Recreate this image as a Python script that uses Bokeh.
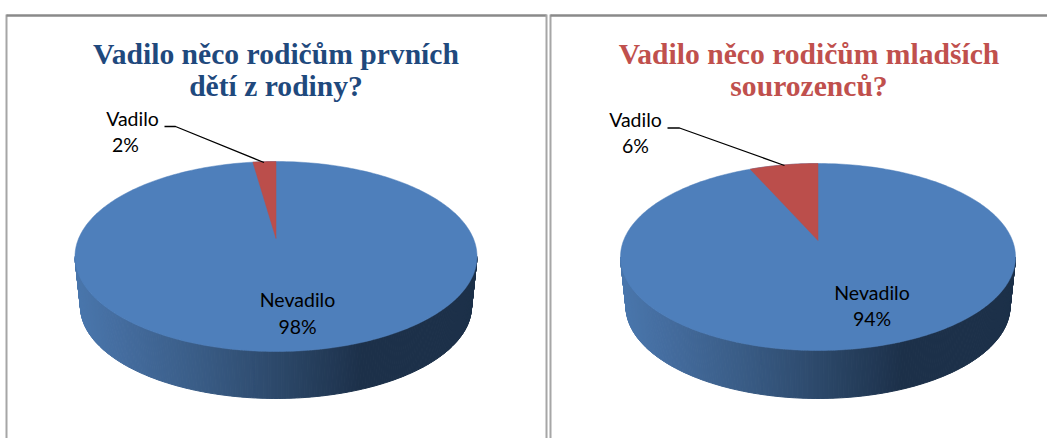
import numpy as np
from bokeh.plotting import figure
from bokeh.layouts import row
from bokeh.embed import file_html
from bokeh.resources import INLINE
from bokeh.core.properties import value

categories = ["Nevadilo", "Vadilo"]
values_first = [98, 2]
values_younger = [94, 6]
title_first = ["Vadilo něco rodičům prvních", "dětí z rodiny?"]
title_younger = ["Vadilo něco rodičům mladších", "sourozenců?"]

BLUE = "#4e7fbb"
RED = "#bb4e4b"
STOPS_T = [0.0, 0.12, 0.3, 0.5, 0.72, 1.0]
STOPS_RGB = np.array([[74, 119, 173], [68, 108, 158], [58, 93, 135], [45, 73, 107], [28, 48, 73], [28, 48, 73]])


def wall_color(t):
    c = [int(np.interp(t, STOPS_T, STOPS_RGB[:, i])) for i in range(3)]
    return "#%02x%02x%02x" % tuple(c)


def panel(vals, title_lines, title_color, x0, x1, geo, labels, leader, frame):
    p = figure(width=x1 - x0, height=438, x_range=(x0, x1), y_range=(438, 0), output_backend="svg",
               toolbar_location=None, x_axis_type=None, y_axis_type=None, min_border=0,
               outline_line_color=None, background_fill_color="white", border_fill_color="white")
    p.grid.visible = False
    cx, cy, rx, ry, bcy, brx, bry, apex_y = geo

    th = np.radians(np.linspace(180, 360, 241))
    xt, yt = cx + rx * np.cos(th), cy - ry * np.sin(th)
    xb, yb = cx + brx * np.cos(th), bcy - bry * np.sin(th)
    xs, ys, cols = [], [], []
    for i in range(len(th) - 1):
        xs.append([xt[i], xt[i + 1], xb[i + 1], xb[i]])
        ys.append([yt[i], yt[i + 1], yb[i + 1], yb[i]])
        cols.append(wall_color((xt[i] - (cx - rx)) / (2 * rx)))
    p.patches(xs, ys, fill_color=cols, line_color=cols, line_width=1)

    a = np.radians(np.linspace(0, 360, 361))
    p.patch(cx + rx * np.cos(a), cy + ry * np.sin(a), fill_color=BLUE, line_color=BLUE, line_width=0.5)

    small = vals[1] / sum(vals) * 2 * np.pi
    angs = np.linspace(0, small, 30)
    k = 2.4
    rim_x, rim_y = [], []
    up = cy - apex_y
    for t in angs:
        dx, dy = -np.sin(t) * k, np.cos(t)
        A = (dx / rx) ** 2 + (dy / ry) ** 2
        B = 2 * up * dy / ry ** 2
        C = (up / ry) ** 2 - 1
        s = (-B + np.sqrt(B * B - 4 * A * C)) / (2 * A)
        rim_x.append(cx + dx * s)
        rim_y.append(cy - (up + dy * s))
    p.patch([cx] + rim_x, [apex_y] + rim_y, fill_color=RED, line_color=RED, line_width=0.5)

    p.line(leader[0], leader[1], line_color="black", line_width=1.3)

    font = value("Lato")
    lx, ly = labels
    texts = [categories[1], f"{vals[1]}%", categories[0], f"{vals[0]}%"]
    p.text(lx, ly, text=texts, text_font=font, text_font_size="19.5px", text_color="black",
           text_align="center", text_baseline="middle")

    tx = frame["tx"]
    p.text([tx, tx], [53, 85], text=title_lines, text_font=value("Liberation Serif"), text_font_style="bold",
           text_font_size="29.6px", text_color=title_color, text_align="center", text_baseline="alphabetic")

    fx = frame["left"]
    p.line([fx, fx], [14, 438], line_color="#a6a6a6", line_width=2)
    p.line([fx, frame["right"]], [15, 15], line_color="#8a8a8a", line_width=2.5)
    if frame.get("right_edge"):
        p.line([frame["right"], frame["right"]], [14, 438], line_color="#a6a6a6", line_width=2)
    return p


p1 = panel(values_first, title_first, "#1f497d", 0, 548,
           (275.5, 256, 201, 95, 306, 195.5, 92, 238),
           ([132, 125, 297, 297], [118, 144, 299, 326]),
           ([164, 175, 263.5], [126, 126, 162]),
           {"tx": 275.5, "left": 6, "right": 546, "right_edge": True})
p2 = panel(values_younger, title_younger, "#c0504d", 548, 1047,
           (817.5, 256.5, 197.5, 93.5, 306, 192, 92, 240),
           ([635, 635, 871.5, 871.5], [119, 145, 292, 318]),
           ([667, 679, 784], [127.5, 127.5, 165]),
           {"tx": 808.5, "left": 550, "right": 1047})

layout = row(p1, p2, spacing=0)
open("out.html", "w").write(file_html(layout, INLINE))
